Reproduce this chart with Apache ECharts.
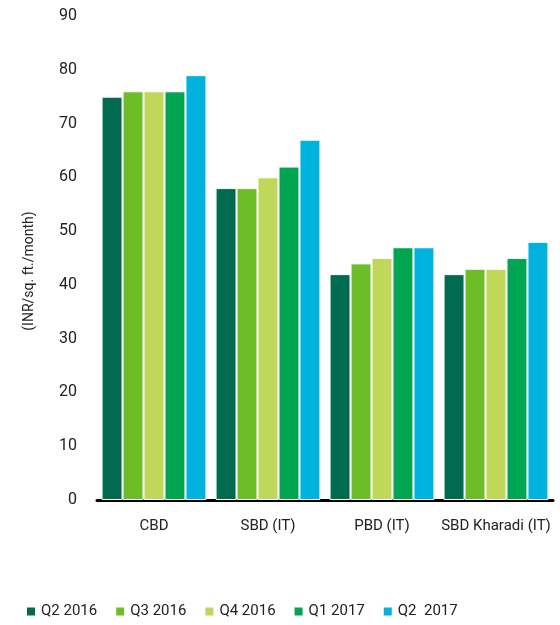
<!DOCTYPE html>
<html>
<head>
<meta charset="utf-8">
<script src="https://cdn.jsdelivr.net/npm/echarts@6/dist/echarts.min.js"></script>
<style>
  html, body { margin: 0; padding: 0; background: #fff; }
  #chart { width: 560px; height: 625px; }
</style>
</head>
<body>
<div id="chart"></div>
<script>
// Office rents by micro-market, quarterly
const categories = ['CBD', 'SBD (IT)', 'PBD (IT)', 'SBD Kharadi (IT)'];
const seriesNames = ['Q2 2016', 'Q3 2016', 'Q4 2016', 'Q1 2017', 'Q2  2017'];
const q2_2016 = [75, 58, 42, 42];
const q3_2016 = [76, 58, 44, 43];
const q4_2016 = [76, 60, 45, 43];
const q1_2017 = [76, 62, 47, 45];
const q2_2017 = [79, 67, 47, 48];
const yTicks = [0, 10, 20, 30, 40, 50, 60, 70, 80, 90];

const colors = ['#006B4E', '#6CBD28', '#BFD85A', '#00A552', '#00B3DF'];
const values = [q2_2016, q3_2016, q4_2016, q1_2017, q2_2017];
const FONT = 'Roboto, "Liberation Sans", sans-serif';

const chart = echarts.init(document.getElementById('chart'), null, { renderer: 'canvas' });
chart.setOption({
  animation: false,
  textStyle: { fontFamily: FONT },
  grid: { left: 97, right: 7, top: 16, bottom: 125, containLabel: false },
  legend: {
    data: seriesNames,
    top: 604,
    left: 25,
    padding: 0,
    itemWidth: 10,
    itemHeight: 10,
    itemGap: 17,
    icon: 'rect',
    textStyle: { fontFamily: FONT, fontSize: 15, color: '#222' }
  },
  xAxis: {
    type: 'category',
    data: categories,
    axisLine: { show: true, lineStyle: { color: '#000', width: 3 } },
    axisTick: { show: false },
    axisLabel: { interval: 0, fontFamily: FONT, fontSize: 15, color: '#222', margin: 19 }
  },
  yAxis: {
    type: 'value',
    min: yTicks[0],
    max: yTicks[yTicks.length - 1],
    interval: 10,
    name: '(INR/sq. ft./month)',
    nameLocation: 'middle',
    nameRotate: 90,
    nameGap: 61,
    nameTextStyle: { fontFamily: FONT, fontSize: 14, color: '#222', padding: [0, 26, 0, 0] },
    axisLine: { show: false },
    axisTick: { show: false },
    splitLine: { show: false },
    axisLabel: { fontFamily: FONT, fontSize: 16, color: '#222', margin: 20 }
  },
  series: values.map((v, i) => ({
    name: seriesNames[i],
    type: 'bar',
    data: v,
    barGap: '0%',
    barCategoryGap: '8%',
    itemStyle: { color: colors[i], borderColor: '#fff', borderWidth: 1 }
  }))
});
</script>
</body>
</html>
